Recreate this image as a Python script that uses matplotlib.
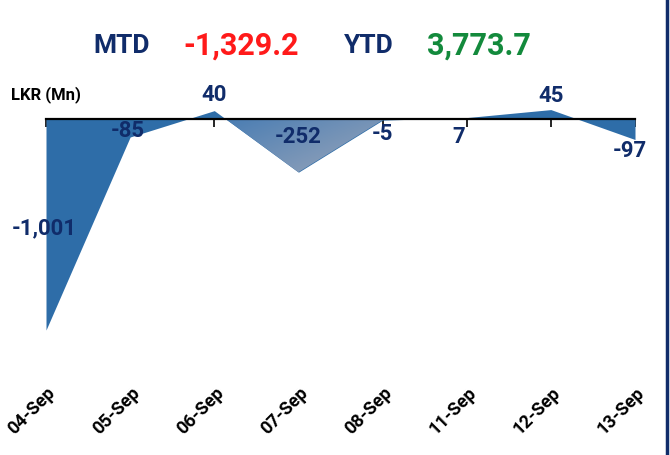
import matplotlib
matplotlib.use('Agg')
import matplotlib.pyplot as plt
import matplotlib.transforms as mtransforms
from matplotlib.patches import Polygon
from matplotlib.lines import Line2D
import numpy as np

# ── data ──────────────────────────────────────────────────────────────────────
dates = ['04-Sep', '05-Sep', '06-Sep', '07-Sep', '08-Sep', '11-Sep', '12-Sep', '13-Sep']
flows = [-1001, -85, 40, -252, -5, 7, 45, -97]
labels = ['-1,001', '-85', '40', '-252', '-5', '7', '45', '-97']
mtd_text = '-1,329.2'
ytd_text = '3,773.7'

# label offsets in points (dx, dy) from each point
label_offsets = [(-1, 73), (-2, 4), (0, 11), (0, 25), (0, -10), (-6, -14), (0, 10), (-4, -8)]

# ── colours ───────────────────────────────────────────────────────────────────
BLUE = '#2E6DA8'
NAVY = '#102C6A'
RED = '#FF1A1A'
GREEN = '#138A3C'

plt.rcParams['font.family'] = ['Roboto', 'DejaVu Sans']
plt.rcParams['font.weight'] = 'bold'

fig = plt.figure(figsize=(6.7, 4.55), dpi=100)
W, H = 670, 455
ax = fig.add_axes([46 / W, 1 - 372 / H, (635 - 46) / W, (372 - 98) / H])

x = np.arange(len(flows))
y = np.array(flows, dtype=float)
ax.fill_between(x, y, 0, color=BLUE, linewidth=0, zorder=2)

# gradient on the 07-Sep dip
x0 = 2 + y[2] / (y[2] - y[3])
poly = Polygon([(x0, 0), (3, y[3]), (4, y[4]), (4, 0)], closed=True,
               transform=ax.transData, facecolor='none', edgecolor='none')
ax.add_patch(poly)
gx, gy = np.meshgrid(np.linspace(0, 1, 100), np.linspace(0, 1, 100))
t = np.clip(0.55 * gx + 0.45 * gy, 0, 1)
c1 = np.array(matplotlib.colors.to_rgb('#4A7DB3'))
c2 = np.array(matplotlib.colors.to_rgb('#9AA6BA'))
img = c1[None, None, :] * (1 - t[..., None]) + c2[None, None, :] * t[..., None]
im = ax.imshow(img, extent=[x0, 4, y[3], 0], origin='upper', aspect='auto', zorder=3)
im.set_clip_path(poly)

ax.set_xlim(0, len(flows) - 1)
ax.set_ylim(-1200, 100)

# axis line at zero with tick marks
for s in ['top', 'right', 'left']:
    ax.spines[s].set_visible(False)
ax.spines['bottom'].set_position(('data', 0))
ax.spines['bottom'].set_linewidth(1.6)
ax.spines['bottom'].set_zorder(4)
ax.set_yticks([])
ax.set_xticks(x)
ax.set_xticklabels([])
ax.tick_params(axis='x', direction='out', length=6, width=1.2, color='black')

# data labels
for xi, yi, lab, (dx, dy) in zip(x, y, labels, label_offsets):
    ax.annotate(lab, (xi, yi), xytext=(dx, dy), textcoords='offset points',
                ha='center', va='center', fontsize=16, fontweight='bold',
                color=NAVY, zorder=5)

# date labels at bottom
trans = mtransforms.blended_transform_factory(ax.transData, fig.transFigure)
for xi, d in zip(x, dates):
    ax.text(xi + 0.08, 1 - 390 / H, d, transform=trans, rotation=45,
            rotation_mode='anchor', ha='right', va='center',
            fontsize=13, fontweight='bold', color='black')

# header
fig.text(122 / W, 1 - 46 / H, 'MTD', ha='center', va='center', fontsize=19,
         fontweight='bold', color=NAVY)
fig.text(241 / W, 1 - 46 / H, mtd_text, ha='center', va='center', fontsize=22,
         fontweight='bold', color=RED)
fig.text(369 / W, 1 - 46 / H, 'YTD', ha='center', va='center', fontsize=19,
         fontweight='bold', color=NAVY)
fig.text(479 / W, 1 - 46 / H, ytd_text, ha='center', va='center', fontsize=22,
         fontweight='bold', color=GREEN)
fig.text(46 / W, 1 - 95 / H, 'LKR (Mn)', ha='center', va='center', fontsize=12,
         fontweight='bold', color='black')

# right border line
fig.add_artist(Line2D([667 / W, 667 / W], [0, 1], color=NAVY, linewidth=2.5,
                      transform=fig.transFigure))

fig.savefig('out.png', dpi=100, facecolor='white')
